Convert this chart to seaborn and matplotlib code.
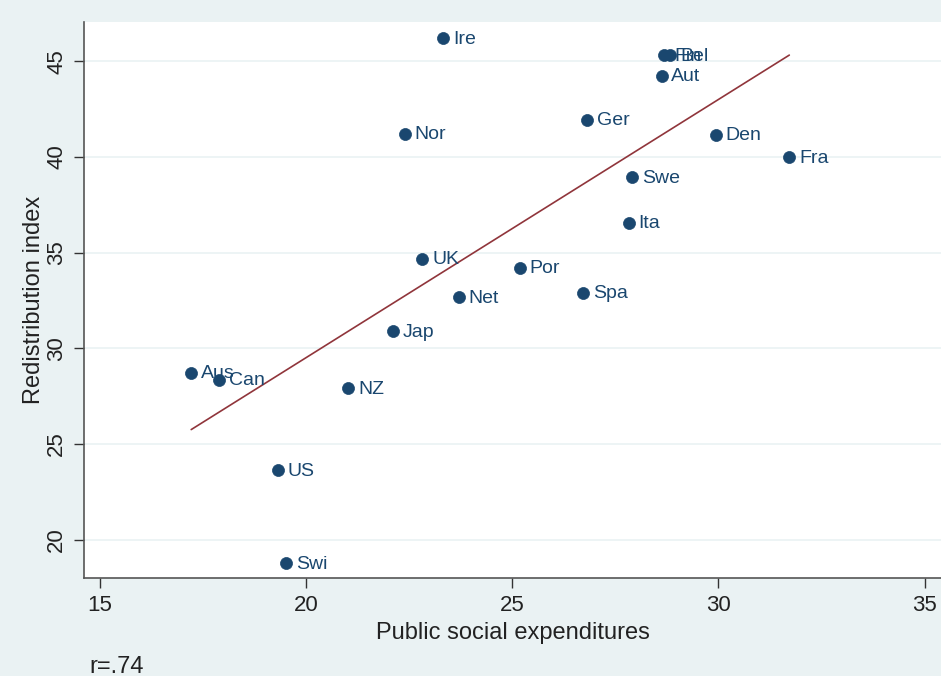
import matplotlib
matplotlib.use("Agg")
import matplotlib.pyplot as plt
import numpy as np
import pandas as pd
import seaborn as sns

# data
countries = ["Ire", "Fin", "Bel", "Aut", "Ger", "Nor", "Den", "Fra", "Swe", "Ita",
             "UK", "Por", "Spa", "Net", "Jap", "Aus", "Can", "NZ", "US", "Swi"]
spending = [23.33, 28.69, 28.83, 28.62, 26.82, 22.40, 29.93, 31.72, 27.91, 27.82,
            22.82, 25.19, 26.72, 23.71, 22.11, 17.21, 17.89, 21.02, 19.32, 19.51]
redistribution = [46.19, 45.30, 45.30, 44.25, 41.95, 41.22, 41.17, 39.97, 38.97, 36.57,
                  34.69, 34.22, 32.91, 32.70, 30.92, 28.73, 28.37, 27.90, 23.66, 18.80]

df = pd.DataFrame({"country": countries, "x": spending, "y": redistribution})

navy = "#1a476f"
maroon = "#90353b"
bg = "#eaf2f3"

sns.set_style("ticks")
plt.rcParams["font.family"] = ["Liberation Sans", "DejaVu Sans"]

fig = plt.figure(figsize=(9.41, 6.76), dpi=100, facecolor=bg)
ax = fig.add_axes([0.0893, 0.145, 0.9107, 0.8225])
ax.set_facecolor("white")

sns.regplot(data=df, x="x", y="y", ax=ax, ci=None, scatter=False,
            line_kws=dict(color=maroon, lw=1.2))
sns.scatterplot(data=df, x="x", y="y", ax=ax, color=navy, s=75,
                edgecolor=navy, linewidth=0.5, zorder=3)

for _, r in df.iterrows():
    ax.annotate(r["country"], (r["x"], r["y"]), xytext=(7, -1),
                textcoords="offset points", va="center", ha="left",
                fontsize=14, color=navy)

ax.set_xlim(14.61, 35.4)
ax.set_ylim(18.0, 47.05)
ax.set_xticks([15, 20, 25, 30, 35])
ax.set_yticks([20, 25, 30, 35, 40, 45])
ax.yaxis.grid(True, color=bg, lw=1.2)
ax.set_axisbelow(True)
ax.tick_params(axis="both", labelsize=16, length=7.5, width=1, color="#333333",
               labelcolor="#222222")
ax.tick_params(axis="x", pad=5)
ax.tick_params(axis="y", pad=4.5)
plt.setp(ax.get_yticklabels(), rotation=90, va="center")

sns.despine(ax=ax, top=True, right=True)
for s in ["left", "bottom"]:
    ax.spines[s].set_color("#555555")
    ax.spines[s].set_linewidth(1.2)

ax.set_xlabel("Public social expenditures", fontsize=17, color="#222222", labelpad=4)
ax.set_ylabel("Redistribution index", fontsize=17, color="#222222", labelpad=1)

fig.text(0.095, 0.005, "r=.74", fontsize=17, color="#222222", ha="left", va="baseline")

fig.savefig("out.png", dpi=100, facecolor=bg)
